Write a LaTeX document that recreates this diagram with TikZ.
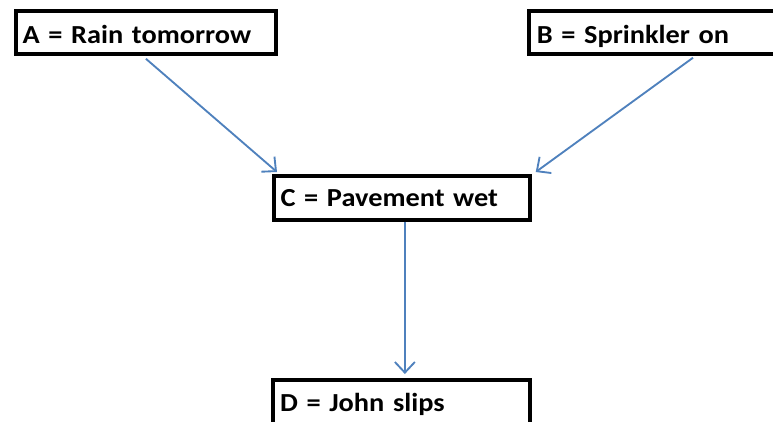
\documentclass[tikz,border=0pt]{standalone}
\usepackage{fontspec}
\setmainfont{Carlito}[FakeStretch=1.09]
\usetikzlibrary{arrows.meta,calc}
\definecolor{linkblue}{RGB}{79,129,189}
\begin{document}
\begin{tikzpicture}[x=0.75pt,y=-0.75pt,
  box/.style={draw=black,line width=2.8pt,fill=white,anchor=north west,
    inner xsep=3.5pt,inner ysep=0pt,align=left,text depth=0pt,
    font=\fontsize{19.5pt}{22pt}\selectfont\bfseries,text=black},
  link/.style={draw=linkblue,line width=1.4pt,-{Straight Barb[length=8pt,width=15pt,line width=1.4pt]}}]
\useasboundingbox (0,0) rectangle (773,421);
\clip (0,0) rectangle (773,421);
\node[box,minimum width=195pt,minimum height=32.25pt,text width=185pt,text height=17.25pt] (A) at (14,9) {A = Rain tomorrow};
\node[box,minimum width=197pt,minimum height=32.25pt,text width=185pt,text height=17.25pt] (B) at (527,9) {B = Sprinkler on};
\node[box,minimum width=192pt,minimum height=33pt,text width=182pt,text height=13.5pt] (C) at (272,174) {C = Pavement wet};
\node[box,minimum width=192.75pt,minimum height=46pt,text width=182pt,text height=17pt,text depth=15pt] (D) at (271,378) {D = John slips};
\coordinate (Bout) at ($(B.south west)+(124.5pt,-1.5pt)$);
\draw[link] ($(A.south)+(0,3)$) -- ($(C.north west)+(5,-2)$);
\draw[link] (Bout) -- ($(C.north east)+(4,-2)$);
\draw[link] ($(C.south)+(3,0)$) -- ($(D.north)+(3.5,-4)$);
\end{tikzpicture}
\end{document}
